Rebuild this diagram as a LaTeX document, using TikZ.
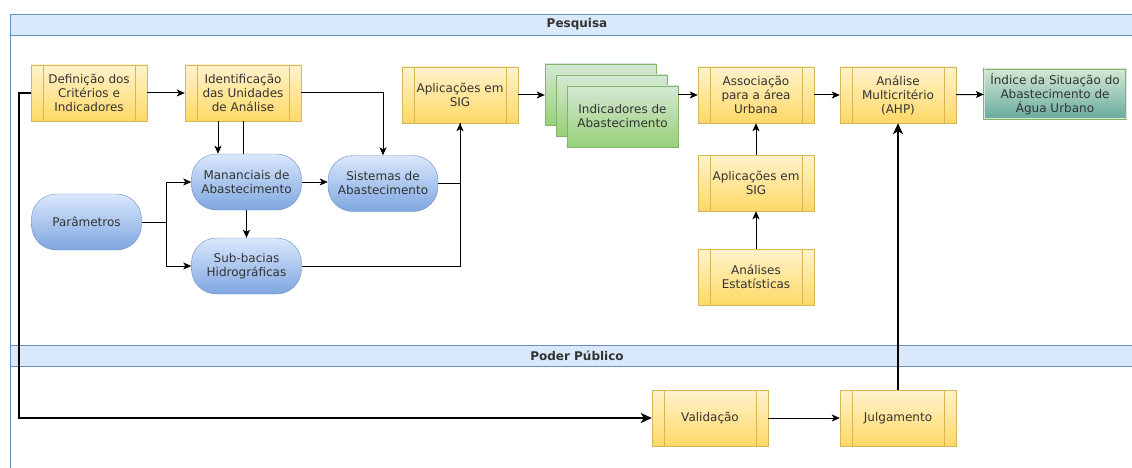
\documentclass[tikz,border=0pt]{standalone}
\usepackage{fontspec}
\setmainfont{DejaVu Sans}
\usetikzlibrary{positioning,arrows.meta}
\definecolor{laneFill}{HTML}{DAE8FC}
\definecolor{laneLine}{HTML}{6C8EBF}
\definecolor{procFill}{HTML}{FFF2CC}
\definecolor{procGrad}{HTML}{FFD966}
\definecolor{procLine}{HTML}{D6B656}
\definecolor{termGrad}{HTML}{7EA6E0}
\definecolor{cardFill}{HTML}{D5E8D4}
\definecolor{cardGrad}{HTML}{97D077}
\definecolor{cardLine}{HTML}{82B366}
\definecolor{endGrad}{HTML}{67AB9F}
\definecolor{txt}{HTML}{333333}
\tikzset{lanehead/.style={draw=laneLine,fill=laneFill,minimum width=1134pt,minimum
height=21pt,inner sep=0pt,font=\bfseries\fontsize{12}{14}\selectfont,text=txt},
base/.style={align=center,inner sep=0pt,text=txt,font=\fontsize{12}{14}\selectfont}}
\tikzstyle{proc}      = [base, rectangle, draw=procLine, top color=procFill, bottom color=procGrad, minimum width=116pt, minimum height=56pt,
  path picture={\draw[procLine] ([xshift=12pt]path picture bounding box.north west) -- ([xshift=12pt]path picture bounding box.south west);
    \draw[procLine] ([xshift=-12pt]path picture bounding box.north east) -- ([xshift=-12pt]path picture bounding box.south east);}]
\tikzstyle{term}      = [base, rectangle, rounded corners=25pt, draw=laneLine, top color=laneFill, bottom color=termGrad, minimum width=110pt, minimum height=56pt]
\tikzstyle{card}      = [base, rectangle, draw=cardLine, top color=cardFill, bottom color=cardGrad, minimum width=111pt, minimum height=61pt]
\tikzstyle{arrow}     = [line width=1pt,->,>={Stealth[length=8pt,width=7pt,inset=2pt]}]
\tikzstyle{line}      = [line width=1pt]
\tikzstyle{bigarrow}  = [line width=2pt,->,>={Stealth[length=11pt,width=10pt,inset=3pt]}]

\begin{document}
\begin{tikzpicture}[x=1pt,y=-1pt]
		\useasboundingbox (0,0) rectangle (1132,468);
		% raias
		\draw[laneLine] (10,14) -- (10,468);
		\node[lanehead] (pesquisa) at (577,24.5) {Pesquisa};
		\node[lanehead] (poder) at (577,356) {Poder Público};
		% pesquisa
		\node[proc] (def) at (89,93) {Definição dos\\Critérios e\\Indicadores};
		\node[proc] (ident) at (243,93) {Identificação\\das Unidades\\de Análise};
		\node[proc] (sig) at (460,95) {Aplicações em\\SIG};
		\node[card] (ind3) at (600.5,94.5) {};
		\node[card] (ind2) at (611.5,105.5) {};
		\node[card] (ind) at (622.5,116.5) {Indicadores de\\Abastecimento};
		\node[proc] (assoc) at (756,95) {Associação\\para a área\\Urbana};
		\node[proc] (ahp) at (898,95) {Análise\\Multicritério\\(AHP)};
		\node[base, rectangle, draw=cardLine, double=cardFill, double distance=1pt, top color=cardFill, bottom color=endGrad,
			minimum width=142pt, minimum height=50pt] (indice) at (1055,94) {Índice da Situação do\\Abastecimento de\\Água Urbano};
		\node[term] (manan) at (246.5,182) {Mananciais de\\Abastecimento};
		\node[term] (sist) at (383,183.5) {Sistemas de\\Abastecimento};
		\node[term] (param) at (86.5,222) {Parâmetros};
		\node[term] (sub) at (246.5,266) {Sub-bacias\\Hidrográficas};
		\node[proc] (sigb) at (756,183) {Aplicações em\\SIG};
		\node[proc] (estat) at (756,277) {Análises\\Estatísticas};
		% poder publico
		\node[proc] (valid) at (710,418) {Validação};
		\node[proc] (julg) at (898,418) {Julgamento};

		\draw[bigarrow] (def.west) -- ++(-12,0) |- (valid.west);
		\draw[arrow] (def) -- (ident);
		\draw[arrow] (ident.east) -| (sist.north);
		\draw[arrow] ([xshift=-25pt]ident.south) -- ([xshift=-25pt]ident.south |- manan.north);
		\draw[line] (ident.south) -- (ident.south |- manan.north);
		\draw[arrow] (manan.south) -- (sub.north);
		\draw[arrow] (param.east) -- ++(25,0) |- (manan.west);
		\draw[arrow] (param.east) -- ++(25,0) |- (sub.west);
		\draw[arrow] (manan.east) -- (manan.east -| sist.west);
		\draw[line] (sist.east) -| (sig.south);
		\draw[arrow] (sub.east) -| (sig.south);
		\draw[arrow] (sig.east) -- (sig.east -| ind3.west);
		\draw[arrow] (assoc.west -| ind.east) -- (assoc.west);
		\draw[arrow] (assoc) -- (ahp);
		\draw[arrow] (ahp) -- (indice);
		\draw[arrow] (sigb) -- (assoc);
		\draw[arrow] (estat) -- (sigb);
		\draw[arrow] (valid) -- (julg);
		\draw[bigarrow] (julg) -- (ahp);
	\end{tikzpicture}
\end{document}
